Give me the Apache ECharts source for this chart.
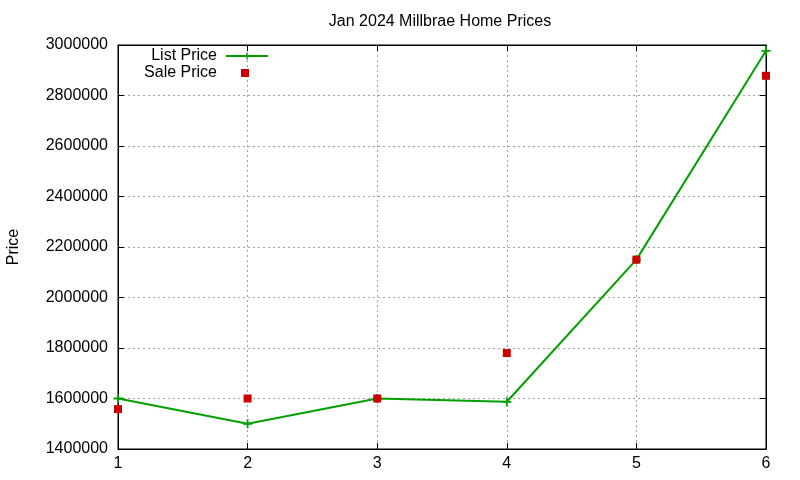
<!DOCTYPE html>
<html lang="en">
<head>
    <meta charset="utf-8"/>
    <title>Jan 2024 Millbrae Home Prices</title>
    <script src="https://cdn.jsdelivr.net/npm/echarts@6/dist/echarts.min.js"></script>
    <style>
        html, body {
            margin: 0;
            height: 100%;
            background: #fff;
        }

        .chart {
            width: 800px;
            height: 480px;
        }
    </style>
</head>
<body>
<div class="chart"></div>
<script>
    // data
    const weeks = [1, 2, 3, 4, 5, 6];
    const listPrice = [1600000, 1500000, 1600000, 1587000, 2150000, 2977000];
    const salePrice = [1558000, 1600000, 1600000, 1780000, 2150000, 2878000];

    const font = "'Liberation Sans', Arial, sans-serif";
    const plus = "path://M4,0H6V4H10V6H6V10H4V6H0V4H4Z";

    const chart = echarts.init(document.querySelector(".chart"));

    function pairs(values) {
        return weeks.map((w, i) => [w, values[i]]);
    }

    const gridLine = {
        show: true,
        lineStyle: {color: "#a0a0a0", width: 1, type: [2, 3]}
    };
    const tick = {show: true, inside: true, length: 6, lineStyle: {color: "#000"}};
    const axisLine = {show: true, lineStyle: {color: "#000", width: 1}};

    let option = {
        backgroundColor: "#fff",
        animation: false,
        textStyle: {fontFamily: font},
        title: {
            text: "Jan 2024 Millbrae Home Prices",
            left: 435,
            textAlign: "center",
            top: 9,
            textStyle: {fontFamily: font, fontSize: 16, fontWeight: "normal", color: "#000"}
        },
        legend: [
            {
                data: ["List Price"],
                right: 526,
                top: 43,
                align: "right",
                itemWidth: 42,
                itemHeight: 9,
                textStyle: {fontFamily: font, fontSize: 16, color: "#000", padding: [0, 4, 0, 0]}
            },
            {
                data: [{name: "Sale Price", icon: "rect"}],
                right: 546,
                top: 60,
                align: "right",
                itemWidth: 8,
                itemHeight: 8,
                textStyle: {fontFamily: font, fontSize: 16, color: "#000", padding: [0, 19, 0, 0]}
            }
        ],
        grid: {
            left: 118,
            right: 34,
            top: 45,
            bottom: 31,
            outerBoundsMode: "none",
            containLabel: false,
            show: true,
            borderColor: "#000",
            borderWidth: 1
        },
        xAxis: [
            {
                type: "value",
                min: 1,
                max: 6,
                interval: 1,
                axisLine: axisLine,
                axisTick: tick,
                splitLine: gridLine,
                axisLabel: {fontFamily: font, fontSize: 16, color: "#000", margin: 7}
            },
            {
                type: "value",
                position: "top",
                min: 1,
                max: 6,
                interval: 1,
                axisLine: axisLine,
                axisTick: tick,
                splitLine: {show: false},
                axisLabel: {show: false}
            }
        ],
        yAxis: [
            {
                type: "value",
                name: "Price",
                nameLocation: "middle",
                nameGap: 96,
                nameTextStyle: {fontFamily: font, fontSize: 16, color: "#000"},
                min: 1400000,
                max: 3000000,
                interval: 200000,
                axisLine: axisLine,
                axisTick: tick,
                splitLine: gridLine,
                axisLabel: {
                    fontFamily: font, fontSize: 16, color: "#000", margin: 10,
                    formatter: (v) => String(v)
                }
            },
            {
                type: "value",
                position: "right",
                min: 1400000,
                max: 3000000,
                interval: 200000,
                axisLine: axisLine,
                axisTick: tick,
                splitLine: {show: false},
                axisLabel: {show: false}
            }
        ],
        series: [
            {
                name: "List Price",
                type: "line",
                data: pairs(listPrice),
                symbol: plus,
                symbolSize: 9,
                showAllSymbol: true,
                lineStyle: {color: "#00a000", width: 2},
                itemStyle: {color: "#00a000"},
                z: 3
            },
            {
                name: "Sale Price",
                type: "scatter",
                data: pairs(salePrice),
                symbol: "rect",
                symbolSize: 8,
                itemStyle: {color: "#cc0000", opacity: 1},
                z: 4
            }
        ]
    };
    chart.setOption(option);
</script>
</body>
</html>
